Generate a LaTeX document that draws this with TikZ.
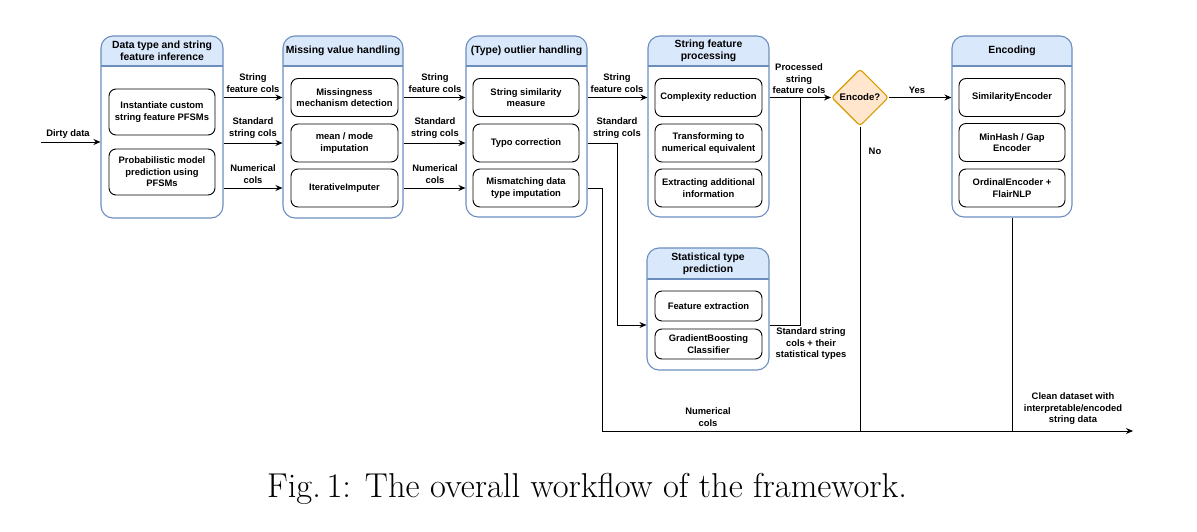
\documentclass[tikz,border=0pt]{standalone}
\usepackage{fontspec}
\newfontfamily\lsans{Liberation Sans}
\usetikzlibrary{shapes.geometric,fit,arrows.meta}
\definecolor{hdrfill}{HTML}{DAE8FC}
\definecolor{bluestroke}{HTML}{6C8EBF}
\definecolor{decfill}{HTML}{FFE6CC}
\definecolor{decstroke}{HTML}{D79B00}
\tikzset{
  outer/.style={draw=bluestroke, line width=1.1pt, rounded corners=12pt, inner sep=0pt},
  hdrtext/.style={font=\lsans\bfseries\fontsize{10.4}{12}\selectfont, align=center},
  inbox/.style={draw=black, line width=0.9pt, rounded corners=7pt, align=center,
    font=\lsans\bfseries\fontsize{9.4}{11.5}\selectfont, inner sep=1pt},
  lbl/.style={font=\lsans\bfseries\fontsize{9.4}{11.5}\selectfont, align=center, inner sep=0pt},
  arr/.style={draw=black, line width=0.9pt, -{Stealth[length=7pt,width=6pt]}},
  ln/.style={draw=black, line width=0.9pt},
  dec/.style={diamond, aspect=1, draw=decstroke, fill=decfill, line width=1.1pt,
    minimum size=57pt, inner sep=0pt, rounded corners=3pt,
    font=\lsans\bfseries\fontsize{9.6}{11}\selectfont}
}
% #1 name, #2 left, #3 top, #4 right, #5 bottom, #6 header bottom, #7 title
\newcommand\stagebox[7]{%
  \fill[white, rounded corners=12pt] (#2,#3) rectangle (#4,#5);
  \fill[hdrfill] (#2,#6) {[rounded corners=12pt] -- (#2,#3) -- (#4,#3)} -- (#4,#6) -- cycle;
  \draw[bluestroke, line width=1.1pt] (#2,#6) -- (#4,#6);
  \node[outer, fit={(#2,#3) (#4,#5)}] (#1) {};
  \node[hdrtext] at ({(#2+#4)/2},{(#3+#6)/2}) {#7};
}
\begin{document}
\begin{tikzpicture}[x=1pt,y=-1pt]
\useasboundingbox (0,0) rectangle (1197,532);
\fill[white] (0,0) rectangle (1197,532);

% stages
\stagebox{b1}{101}{36}{223}{218}{66}{Data type and string\\feature inference}
\stagebox{b2}{283}{36}{403}{218}{66}{Missing value handling}
\stagebox{b3}{466}{36}{587}{217}{66}{(Type) outlier handling}
\stagebox{b4}{648}{36}{769}{217}{66}{String feature\\processing}
\stagebox{b5}{647}{248}{769}{370}{279}{Statistical type\\prediction}
\stagebox{b6}{952}{36}{1072}{217}{66}{Encoding}

% inner boxes
\node[inbox, minimum width=106pt, minimum height=46pt] (a1) at (162,112) {Instantiate custom\\string feature PFSMs};
\node[inbox, minimum width=106pt, minimum height=46pt] (a2) at (162,172) {Probabilistic model\\prediction using\\PFSMs};

\node[inbox, minimum width=107pt, minimum height=38pt] (m1) at (344.5,97.5) {Missingness\\mechanism detection};
\node[inbox, minimum width=107pt, minimum height=38pt] (m2) at (344.5,143) {mean / mode\\imputation};
\node[inbox, minimum width=107pt, minimum height=38pt] (m3) at (344.5,188) {IterativeImputer};

\node[inbox, minimum width=106pt, minimum height=38pt] (s1) at (526,97.5) {String similarity\\measure};
\node[inbox, minimum width=106pt, minimum height=38pt] (s2) at (526,143) {Typo correction};
\node[inbox, minimum width=106pt, minimum height=38pt] (s3) at (526,188) {Mismatching data\\type imputation};

\node[inbox, minimum width=107pt, minimum height=38pt] (p1) at (708.5,97.5) {Complexity reduction};
\node[inbox, minimum width=107pt, minimum height=38pt] (p2) at (708.5,143) {Transforming to\\numerical equivalent};
\node[inbox, minimum width=107pt, minimum height=38pt] (p3) at (708.5,188) {Extracting additional\\information};

\node[inbox, minimum width=107pt, minimum height=30pt] (t1) at (708.5,306) {Feature extraction};
\node[inbox, minimum width=107pt, minimum height=30pt] (t2) at (708.5,344) {GradientBoosting\\Classifier};

\node[inbox, minimum width=106pt, minimum height=38pt] (e1) at (1012,97.5) {SimilarityEncoder};
\node[inbox, minimum width=106pt, minimum height=38pt] (e2) at (1012,142.5) {MinHash / Gap\\Encoder};
\node[inbox, minimum width=106pt, minimum height=38pt] (e3) at (1012,188) {OrdinalEncoder +\\FlairNLP};

% decision
\node[dec] (enc) at (860,97.5) {Encode?};

% coordinates
\coordinate (dirty) at (41,142);
\coordinate (jn) at (617,325);
\coordinate (bl) at (602,431);
\coordinate (outend) at (1133,431);
\coordinate (up) at (800,97.5);

% connectors
\draw[arr] (dirty) -- (dirty -| b1.west);
\node[lbl] at (68,134) {Dirty data};

\draw[arr] (b1.east |- m1) -- (b2.west |- m1);
\draw[arr] (b1.east |- m2) -- (b2.west |- m2);
\draw[arr] (b1.east |- m3) -- (b2.west |- m3);
\node[lbl] at (253,83) {String\\feature cols};
\node[lbl] at (253,128) {Standard\\string cols};
\node[lbl] at (253,174) {Numerical\\cols};

\draw[arr] (b2.east |- m1) -- (b3.west |- m1);
\draw[arr] (b2.east |- m2) -- (b3.west |- m2);
\draw[arr] (b2.east |- m3) -- (b3.west |- m3);
\node[lbl] at (435,83) {String\\feature cols};
\node[lbl] at (435,128) {Standard\\string cols};
\node[lbl] at (435,174) {Numerical\\cols};

\draw[arr] (b3.east |- s1) -- (b4.west |- s1);
\node[lbl] at (617,83) {String\\feature cols};
\draw[arr] (b3.east |- s2) -| (jn) -- (jn -| b5.west);
\node[lbl] at (617,128) {Standard\\string cols};
\draw[arr] (b3.east |- s3) -| (bl) -- (outend);
\node[lbl] at (708,417) {Numerical\\cols};

\draw[arr] (b4.east |- p1) -- (enc.west);
\node[lbl] at (799,79) {Processed\\string\\feature cols};
\draw[ln] (b5.east |- jn) -| (up);
\node[lbl] at (811,344) {Standard string\\cols + their\\statistical types};

\draw[arr] (enc.east) -- (b6.west |- enc);
\node[lbl] at (917,90) {Yes};
\draw[ln] (enc.south) -- (enc.south |- outend);
\node[lbl] at (875,151) {No};

\draw[ln] (b6.south) -- (b6.south |- outend);
\node[lbl] at (1073,409) {Clean dataset with\\interpretable/encoded\\string data};

% caption
\node[font=\fontsize{34.5}{40}\selectfont, inner sep=0pt] (cap) at (587,489) {Fig.\,1: The overall workflow of the framework.};
\end{tikzpicture}
\end{document}
